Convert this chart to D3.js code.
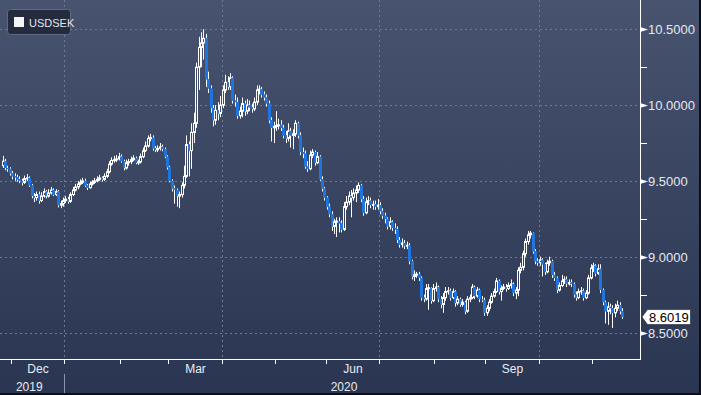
<!DOCTYPE html>
<html><head><meta charset="utf-8">
<script src="https://cdn.jsdelivr.net/npm/d3@7"></script>
<style>html,body{margin:0;padding:0;background:#2b3753;overflow:hidden}</style>
</head><body><svg id="c" width="701" height="395"></svg>
<script>
const ticker = "USDSEK";
const startDate = new Date(2019, 10, 26);
const endDate = new Date(2020, 10, 18);
const firstOpen = 9.60;
const closes = [
9.63,9.585,9.58,9.55,9.53,9.525,9.51,9.50,9.49,9.515,
9.52,9.47,9.40,9.39,9.41,9.37,9.40,9.43,9.40,9.42,
9.44,9.41,9.43,9.34,9.35,9.37,9.38,9.365,9.41,9.44,
9.46,9.48,9.49,9.50,9.47,9.455,9.48,9.49,9.50,9.51,
9.52,9.51,9.53,9.56,9.61,9.635,9.64,9.645,9.66,9.63,
9.585,9.62,9.627,9.64,9.65,9.62,9.625,9.66,9.70,9.73,
9.78,9.785,9.715,9.705,9.715,9.725,9.71,9.66,9.59,9.50,
9.45,9.44,9.40,9.41,9.47,9.53,9.74,9.70,9.82,9.88,
10.25,10.38,10.41,10.44,10.17,10.11,9.98,9.90,9.965,9.945,
10.00,10.10,10.15,10.12,10.18,10.03,10.02,9.93,9.96,10.01,
9.96,10.00,9.985,9.975,10.02,10.10,10.105,10.07,10.05,10.01,
9.90,9.85,9.86,9.865,9.87,9.85,9.80,9.78,9.83,9.80,
9.81,9.88,9.80,9.69,9.68,9.595,9.58,9.67,9.69,9.62,
9.66,9.51,9.45,9.39,9.33,9.28,9.20,9.23,9.235,9.22,
9.18,9.33,9.36,9.40,9.39,9.42,9.44,9.47,9.38,9.29,
9.36,9.37,9.34,9.345,9.33,9.34,9.30,9.27,9.25,9.20,
9.23,9.19,9.18,9.11,9.08,9.09,9.07,9.075,8.97,8.87,
8.88,8.885,8.86,8.73,8.72,8.79,8.795,8.71,8.79,8.80,
8.72,8.685,8.73,8.77,8.775,8.73,8.77,8.695,8.72,8.685,
8.70,8.64,8.72,8.73,8.80,8.74,8.78,8.72,8.715,8.63,
8.66,8.70,8.74,8.77,8.84,8.77,8.79,8.80,8.79,8.81,
8.82,8.76,8.78,8.91,8.93,9.02,9.10,9.145,9.155,9.035,
8.97,8.96,8.98,8.95,8.90,8.96,8.97,8.88,8.86,8.78,
8.81,8.84,8.85,8.82,8.83,8.82,8.75,8.73,8.77,8.775,
8.73,8.76,8.86,8.925,8.94,8.89,8.92,8.78,8.70,8.64,
8.67,8.66,8.63,8.66,8.68,8.64,8.6019
];
const highs = [
9.665,9.645,9.60,9.59,9.565,9.55,9.54,9.53,9.515,9.535,
9.545,9.53,9.48,9.42,9.43,9.43,9.425,9.45,9.44,9.445,
9.46,9.45,9.445,9.44,9.37,9.39,9.40,9.395,9.425,9.46,
9.48,9.50,9.51,9.52,9.515,9.48,9.495,9.505,9.52,9.53,
9.54,9.53,9.55,9.58,9.63,9.655,9.665,9.67,9.685,9.675,
9.64,9.64,9.645,9.66,9.67,9.66,9.64,9.68,9.72,9.76,
9.80,9.81,9.80,9.73,9.735,9.75,9.74,9.72,9.67,9.60,
9.51,9.47,9.45,9.43,9.49,9.60,9.80,9.76,9.88,9.95,
10.28,10.45,10.48,10.50,10.47,10.22,10.13,10.00,10.00,10.02,
10.06,10.13,10.20,10.19,10.21,10.19,10.07,10.05,9.99,10.05,
10.03,10.04,10.03,10.01,10.05,10.13,10.13,10.12,10.09,10.07,
10.03,9.92,9.89,9.96,9.91,9.90,9.87,9.83,9.88,9.85,
9.84,9.90,9.89,9.82,9.72,9.70,9.63,9.70,9.71,9.70,
9.69,9.67,9.53,9.46,9.40,9.35,9.30,9.25,9.26,9.26,
9.24,9.36,9.40,9.43,9.44,9.45,9.47,9.49,9.48,9.40,
9.39,9.40,9.39,9.37,9.37,9.38,9.36,9.32,9.29,9.26,
9.26,9.24,9.22,9.20,9.13,9.12,9.11,9.10,9.09,8.98,
8.91,8.90,8.90,8.87,8.75,8.82,8.82,8.80,8.82,8.83,
8.81,8.74,8.76,8.80,8.80,8.79,8.79,8.78,8.74,8.73,
8.72,8.71,8.74,8.75,8.82,8.81,8.80,8.79,8.74,8.73,
8.68,8.72,8.76,8.79,8.86,8.85,8.81,8.82,8.82,8.83,
8.85,8.83,8.80,8.93,8.96,9.04,9.12,9.17,9.17,9.16,
9.05,8.99,9.00,8.99,8.96,8.98,9.00,8.98,8.90,8.87,
8.83,8.88,8.87,8.87,8.85,8.85,8.83,8.77,8.79,8.80,
8.79,8.78,8.88,8.95,8.96,8.95,8.95,8.95,8.79,8.71,
8.70,8.69,8.68,8.69,8.71,8.70,8.66
];
const lows = [
9.585,9.57,9.56,9.535,9.51,9.50,9.495,9.485,9.47,9.48,
9.50,9.46,9.385,9.36,9.37,9.35,9.36,9.39,9.385,9.39,
9.41,9.40,9.40,9.325,9.32,9.33,9.355,9.35,9.355,9.40,
9.43,9.445,9.47,9.48,9.46,9.44,9.45,9.47,9.48,9.49,
9.50,9.495,9.50,9.52,9.55,9.60,9.62,9.625,9.635,9.62,
9.57,9.575,9.60,9.61,9.63,9.61,9.605,9.615,9.65,9.69,
9.72,9.76,9.70,9.69,9.69,9.70,9.695,9.65,9.575,9.49,
9.43,9.35,9.33,9.32,9.39,9.45,9.52,9.53,9.58,9.75,
9.85,10.10,10.25,10.30,10.12,10.08,9.95,9.86,9.87,9.90,
9.92,9.98,10.08,10.10,10.10,10.01,9.99,9.91,9.91,9.92,
9.93,9.94,9.96,9.95,9.96,10.00,10.07,10.05,10.03,9.99,
9.88,9.76,9.75,9.83,9.84,9.83,9.78,9.75,9.76,9.72,
9.71,9.79,9.78,9.67,9.65,9.58,9.56,9.57,9.65,9.60,
9.61,9.50,9.43,9.37,9.31,9.26,9.17,9.15,9.13,9.16,
9.16,9.17,9.31,9.34,9.26,9.37,9.36,9.42,9.36,9.27,
9.28,9.34,9.32,9.31,9.31,9.31,9.28,9.25,9.22,9.18,
9.18,9.17,9.15,9.09,9.06,9.06,9.05,9.05,8.95,8.85,
8.84,8.86,8.84,8.71,8.70,8.71,8.65,8.69,8.70,8.77,
8.70,8.66,8.63,8.71,8.75,8.71,8.72,8.67,8.68,8.67,
8.67,8.62,8.63,8.70,8.72,8.72,8.73,8.70,8.70,8.61,
8.61,8.64,8.69,8.73,8.76,8.75,8.71,8.78,8.77,8.78,
8.79,8.74,8.72,8.74,8.89,8.91,9.00,9.08,9.12,9.02,
8.95,8.94,8.94,8.87,8.88,8.89,8.94,8.86,8.84,8.76,
8.77,8.80,8.82,8.80,8.81,8.80,8.73,8.71,8.72,8.75,
8.71,8.72,8.75,8.85,8.90,8.87,8.88,8.76,8.68,8.56,
8.55,8.62,8.53,8.60,8.64,8.62,8.59
];
const yTicks = [8.5, 9.0, 9.5, 10.0, 10.5];
const yMinorTicks = [8.75, 9.25, 9.75, 10.25];
const monthLabels = ["Dec", "Mar", "Jun", "Sep"];
const gridMonths = ["Jan", "Apr", "Jul", "Oct"];
const lastPrice = 8.6019;

const W = 701, H = 395, plotR = 640, plotB = 359;
const FONT = "'Liberation Sans', Arial, 'DejaVu Sans', sans-serif";
const svg = d3.select("#c");
const defs = svg.append("defs");
const grad = defs.append("linearGradient").attr("id", "bg").attr("x1", 0).attr("y1", 0).attr("x2", 0).attr("y2", 1);
grad.append("stop").attr("offset", "0%").attr("stop-color", "#48546f");
grad.append("stop").attr("offset", "100%").attr("stop-color", "#2a3551");
svg.append("rect").attr("width", W).attr("height", H).attr("fill", "url(#bg)");

const dates = d3.timeDay.range(startDate, d3.timeDay.offset(endDate, 1)).filter(d => d.getDay() !== 0 && d.getDay() !== 6);
const n = Math.min(dates.length, closes.length);
const data = d3.range(n).map(k => ({
  date: dates[k], o: k ? closes[k - 1] : firstOpen, c: closes[k], h: highs[k], l: lows[k]
}));

const x = d3.scaleLinear().domain([-1.04, 263.42]).range([0, plotR]);
const y = d3.scaleLinear().domain([8.5, 10.5]).range([332.5, 29.3]);
const fmtM = d3.timeFormat("%b");

// month starts
const monthStarts = [];
data.forEach((d, k) => { if (k === 0 || d.date.getMonth() !== data[k - 1].date.getMonth()) { if (k > 0 || d.date.getDate() <= 3) monthStarts.push({k, date: d.date}); } });
// add future month starts beyond data (none needed)
const tickX = k => Math.round(x(k - 0.5)) + 0.5;

// gridlines
const grid = svg.append("g").attr("stroke", "#6e7a93").attr("stroke-width", 1).attr("stroke-dasharray", "2,3");
yTicks.forEach(v => grid.append("line").attr("x1", 0).attr("x2", plotR).attr("y1", Math.round(y(v)) + 0.5).attr("y2", Math.round(y(v)) + 0.5));
monthStarts.filter(m => gridMonths.includes(fmtM(m.date))).forEach(m =>
  grid.append("line").attr("x1", tickX(m.k)).attr("x2", tickX(m.k)).attr("y1", 0).attr("y2", plotB));

// candles
const cg = svg.append("g");
data.forEach((d, k) => {
  const cx = Math.round(x(k));
  const up = d.c >= d.o;
  const top = y(Math.max(d.o, d.c)), bot = y(Math.min(d.o, d.c));
  const bh = Math.max(1, bot - top);
  cg.append("line").attr("x1", cx + 0.5).attr("x2", cx + 0.5).attr("y1", y(d.h)).attr("y2", top).attr("stroke", "#ffffff").attr("stroke-width", 1);
  cg.append("line").attr("x1", cx + 0.5).attr("x2", cx + 0.5).attr("y1", top + bh).attr("y2", y(d.l)).attr("stroke", "#ffffff").attr("stroke-width", 1);
  if (up) {
    cg.append("rect").attr("x", cx - 0.5).attr("y", top).attr("width", 2).attr("height", bh)
      .attr("fill", "none").attr("stroke", "#ffffff").attr("stroke-width", 1);
  } else {
    cg.append("rect").attr("x", cx - 1).attr("y", top).attr("width", 3).attr("height", bh).attr("fill", "#1f74dd");
  }
});

// axes lines
svg.append("line").attr("x1", plotR + 0.5).attr("x2", plotR + 0.5).attr("y1", 0).attr("y2", plotB + 1).attr("stroke", "#ffffff");
svg.append("line").attr("x1", 0).attr("x2", plotR + 1).attr("y1", plotB + 0.5).attr("y2", plotB + 0.5).attr("stroke", "#ffffff");

// y axis ticks and labels
yMinorTicks.forEach(v => svg.append("line").attr("x1", plotR).attr("x2", plotR + 7).attr("y1", Math.round(y(v)) + 0.5).attr("y2", Math.round(y(v)) + 0.5).attr("stroke", "#ffffff"));
yTicks.forEach(v => {
  const yy = Math.round(y(v)) + 0.5;
  svg.append("path").attr("d", `M${plotR},${yy - 2.5}L${plotR + 8},${yy}L${plotR},${yy + 2.5}Z`).attr("fill", "#ffffff");
  svg.append("text").attr("x", 648).attr("y", yy + 4.5).attr("font-family", FONT).attr("font-size", 13)
    .attr("fill", "#e3e8f0").text(d3.format(".4f")(v));
});

// last price tag
const ly = y(lastPrice);
svg.append("path").attr("d", `M642,${ly}L647.5,${ly - 7.5}L690.5,${ly - 7.5}L690.5,${ly + 7.5}L647.5,${ly + 7.5}Z`)
  .attr("fill", "#ffffff").attr("stroke", "#1a1f2c").attr("stroke-width", 0.6);
svg.append("text").attr("x", 649).attr("y", ly + 4.5).attr("font-family", FONT).attr("font-size", 13).attr("fill", "#000000").text(d3.format(".4f")(lastPrice));

// x axis ticks
monthStarts.forEach(m => svg.append("line").attr("x1", tickX(m.k)).attr("x2", tickX(m.k)).attr("y1", plotB).attr("y2", plotB + 5).attr("stroke", "#ffffff"));
const tickPos = monthStarts.map(m => tickX(m.k));
monthStarts.forEach((m, j) => {
  const lab = fmtM(m.date);
  if (!monthLabels.includes(lab)) return;
  const next = j + 1 < tickPos.length ? tickPos[j + 1] : plotR;
  svg.append("text").attr("x", (tickPos[j] + next) / 2).attr("y", 373).attr("text-anchor", "middle")
    .attr("font-family", FONT).attr("font-size", 12).attr("fill", "#e8ecf3").text(lab);
});
// years
const years = d3.groups(data, d => d.date.getFullYear());
let yearStarts = [];
years.forEach(([yr, arr]) => {
  const k0 = data.indexOf(arr[0]);
  const x0 = k0 === 0 ? 0 : tickX(k0);
  const x1 = Math.min(plotR, tickX(data.indexOf(arr[arr.length - 1]) + 1));
  if (k0 !== 0) yearStarts.push(x0);
  svg.append("text").attr("x", (x0 + x1) / 2 - (k0 === 0 ? 3 : 0)).attr("y", 391).attr("text-anchor", "middle")
    .attr("font-family", FONT).attr("font-size", 12).attr("fill", "#e8ecf3").text(String(yr));
});
yearStarts.forEach(xs => svg.append("line").attr("x1", xs).attr("x2", xs).attr("y1", 374).attr("y2", H).attr("stroke", "#8b93a6"));

// legend
svg.append("rect").attr("x", 7.5).attr("y", 9.5).attr("width", 63).attr("height", 25).attr("rx", 3)
  .attr("fill", "#242b3e").attr("stroke", "#5f6980");
svg.append("rect").attr("x", 14).attr("y", 17).attr("width", 10).attr("height", 10).attr("fill", "#f4f5f7");
svg.append("text").attr("x", 29).attr("y", 26.5).attr("font-family", FONT).attr("font-size", 11).attr("fill", "#e1e5ec").text(ticker);

// frame edges
svg.append("rect").attr("x", 699).attr("y", 0).attr("width", 2).attr("height", H).attr("fill", "#0c0f17");
svg.append("rect").attr("x", 0).attr("y", 393).attr("width", W).attr("height", 2).attr("fill", "#0c0f17");
</script></body></html>
